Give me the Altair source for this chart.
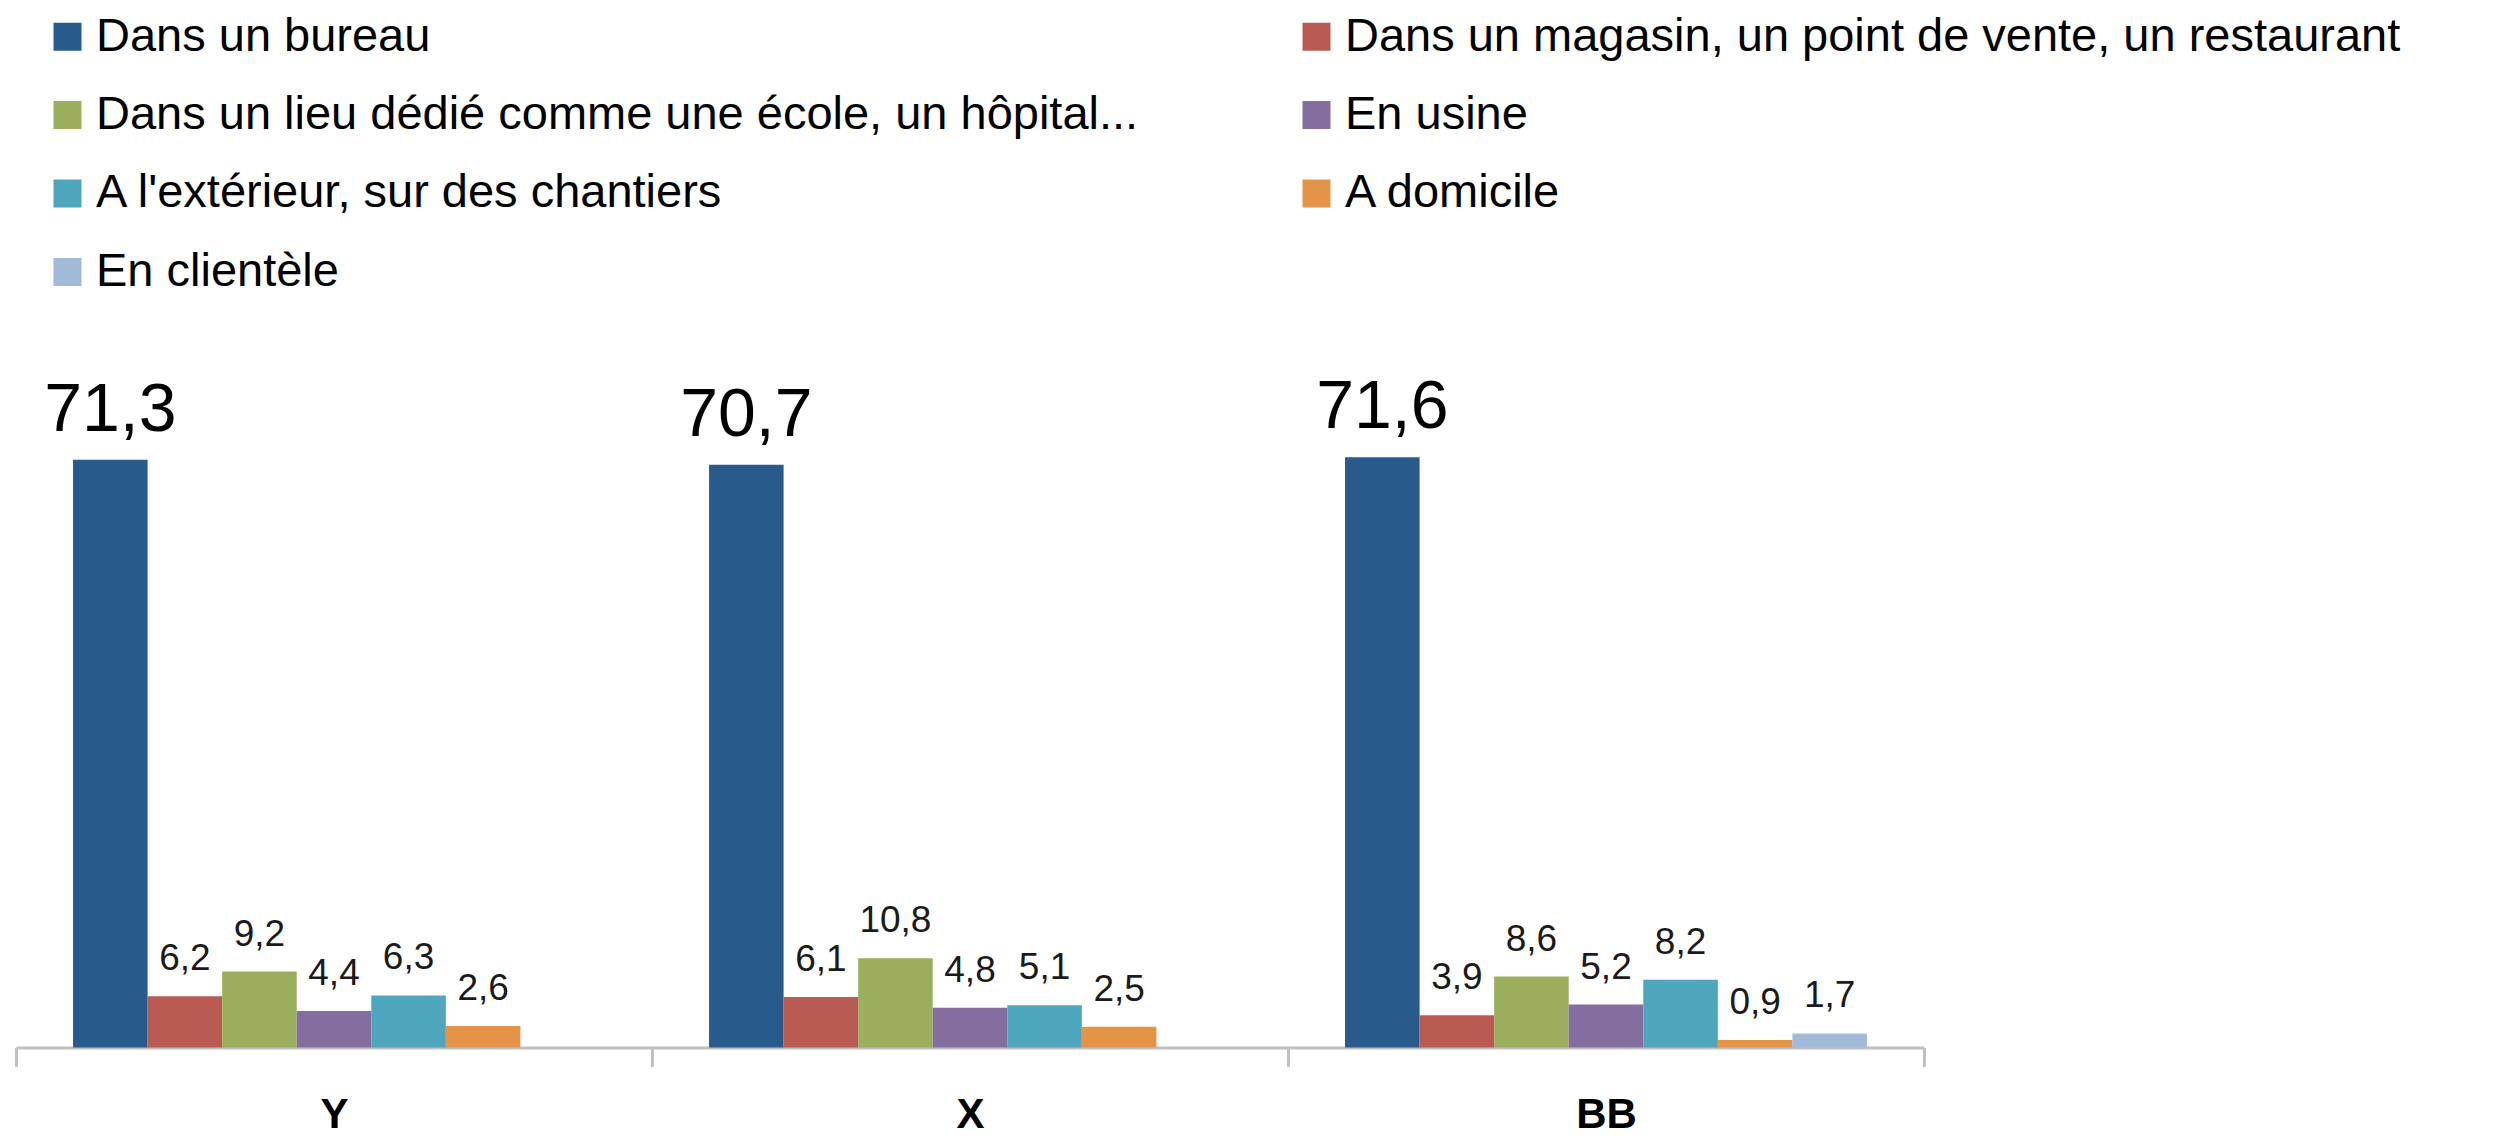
import altair as alt
import pandas as pd

groups = ["Y", "X", "BB"]
series = [
    "Dans un bureau",
    "Dans un magasin, un point de vente, un restaurant",
    "Dans un lieu dédié comme une école, un hôpital...",
    "En usine",
    "A l'extérieur, sur des chantiers",
    "A domicile",
    "En clientèle",
]
colors = ["#285A8C", "#B95B53", "#9BAE5E", "#846D9F", "#4EA6BC", "#E59447", "#A2B9D8"]

values_Y = [71.3, 6.2, 9.2, 4.4, 6.3, 2.6]
values_X = [70.7, 6.1, 10.8, 4.8, 5.1, 2.5]
values_BB = [71.6, 3.9, 8.6, 5.2, 8.2, 0.9, 1.7]

rows = []
for g, vals in zip(groups, [values_Y, values_X, values_BB]):
    for s, v in zip(series, vals):
        rows.append({"groupe": g, "serie": s, "valeur": v,
                     "etiquette": f"{v:.1f}".replace(".", ",")})
df = pd.DataFrame(rows)

FONT = "Liberation Sans"

base = alt.Chart(df).encode(
    x=alt.X(
        "groupe:N",
        sort=groups,
        scale=alt.Scale(domain=groups, paddingInner=0, paddingOuter=0),
        axis=alt.Axis(
            title=None, labelAngle=0, labelFont=FONT, labelFontSize=42,
            labelFontWeight="bold", labelColor="black", labelPadding=28,
            tickBand="extent", tickSize=19, tickColor="#C0C0C0", tickWidth=3,
            domainColor="#C0C0C0", domainWidth=3,
        ),
    ),
    xOffset=alt.XOffset(
        "serie:N",
        scale=alt.Scale(domain=series, paddingInner=0, paddingOuter=0.765),
    ),
    y=alt.Y("valeur:Q", scale=alt.Scale(domain=[0, 80], nice=False, zero=True), axis=None),
)

bars = base.mark_bar().encode(
    color=alt.Color(
        "serie:N",
        scale=alt.Scale(domain=series, range=colors),
        legend=alt.Legend(
            title=None, orient="none", legendX=28, legendY=-375,
            direction="horizontal", columns=2, columnPadding=154, rowPadding=30.5,
            symbolType="square", symbolSize=784, symbolStrokeWidth=0,
            labelFont=FONT, labelFontSize=47, labelColor="black",
            labelOffset=5, labelLimit=3000, padding=0, offset=0,
        ),
    )
)

labels_big = base.transform_filter(alt.datum.serie == series[0]).mark_text(
    baseline="alphabetic", dy=-29, fontSize=68, font=FONT, color="black"
).encode(text="etiquette:N")

labels_small = base.transform_filter(alt.datum.serie != series[0]).mark_text(
    baseline="alphabetic", dy=-26, fontSize=37, font=FONT, color="#1a1a1a"
).encode(text="etiquette:N")

chart = alt.layer(bars, labels_big, labels_small).properties(
    width=1908,
    height=659.4,
    padding={"left": 8, "top": 380, "right": 550, "bottom": 93},
    autosize=alt.AutoSizeParams(type="none"),
).configure_view(stroke=None)

chart.save("out.html", embed_options={"renderer": "svg", "actions": False})
